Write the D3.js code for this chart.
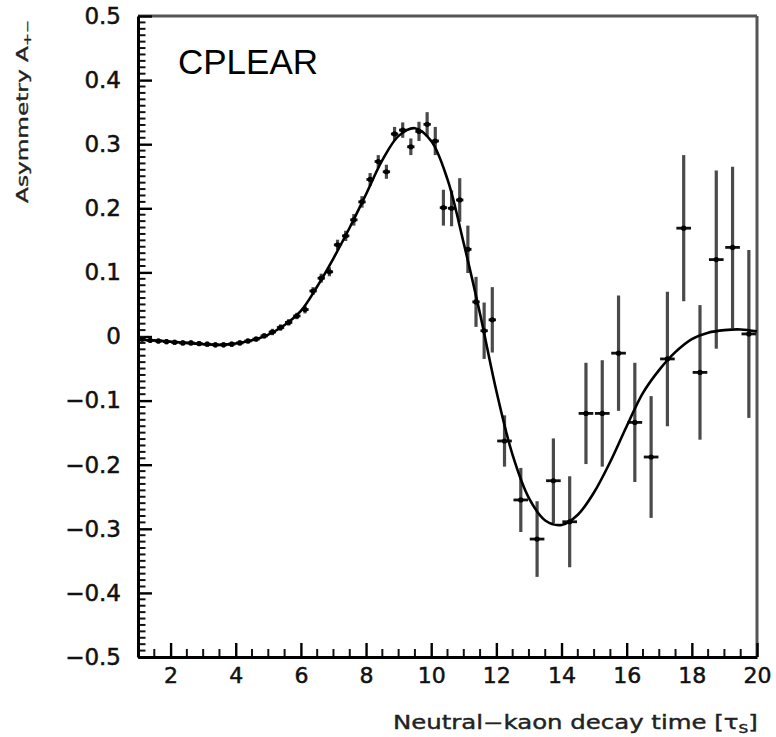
<!DOCTYPE html>
<html>
<head>
<meta charset="utf-8">
<script src="https://cdn.jsdelivr.net/npm/d3@7"></script>
<style>
  html, body { margin: 0; padding: 0; background: #fff; }
  svg { display: block; }
</style>
</head>
<body>
<script>
// ---------- data ----------
const decayTime = [1.125,1.375,1.625,1.875,2.125,2.375,2.625,2.875,3.125,3.375,3.625,3.875,
  4.125,4.375,4.625,4.875,5.125,5.375,5.625,5.875,6.125,6.375,6.625,6.875,7.125,7.375,7.625,7.875,
  8.125,8.375,8.625,8.875,9.125,9.375,9.625,9.875,10.125,10.375,10.625,10.875,11.125,11.375,11.625,11.875,
  12.25,12.75,13.25,13.75,14.25,14.75,15.25,15.75,16.25,16.75,17.25,17.75,18.25,18.75,19.25,19.75];
const asymmetry = [-0.004,-0.006,-0.007,-0.008,-0.009,-0.010,-0.010,-0.011,-0.012,-0.013,-0.013,-0.012,
  -0.010,-0.007,-0.004,0.001,0.007,0.014,0.022,0.032,0.042,0.071,0.091,0.101,0.143,0.157,0.182,0.210,
  0.245,0.273,0.257,0.316,0.322,0.296,0.320,0.331,0.305,0.201,0.200,0.213,0.136,0.054,0.009,0.026,
  -0.163,-0.255,-0.316,-0.225,-0.289,-0.120,-0.120,-0.026,-0.134,-0.188,-0.035,0.169,-0.056,0.120,0.139,0.004];
const asymmetryErr = [0.004,0.004,0.004,0.004,0.004,0.004,0.004,0.004,0.004,0.004,0.004,0.004,
  0.004,0.004,0.004,0.004,0.005,0.005,0.005,0.005,0.006,0.006,0.007,0.007,0.008,0.008,0.009,0.009,
  0.010,0.010,0.011,0.011,0.012,0.013,0.015,0.019,0.022,0.028,0.028,0.034,0.037,0.039,0.044,0.051,
  0.040,0.050,0.059,0.066,0.071,0.079,0.083,0.090,0.093,0.095,0.105,0.114,0.105,0.139,0.126,0.131];
const binWidth = [0.25,0.25,0.25,0.25,0.25,0.25,0.25,0.25,0.25,0.25,0.25,0.25,
  0.25,0.25,0.25,0.25,0.25,0.25,0.25,0.25,0.25,0.25,0.25,0.25,0.25,0.25,0.25,0.25,
  0.25,0.25,0.25,0.25,0.25,0.25,0.25,0.25,0.25,0.25,0.25,0.25,0.25,0.25,0.25,0.25,
  0.5,0.5,0.5,0.5,0.5,0.5,0.5,0.5,0.5,0.5,0.5,0.5,0.5,0.5,0.5,0.5];

const fitTime = [1.0,1.5,2.0,2.5,3.0,3.5,4.0,4.5,5.0,5.5,6.0,6.5,7.0,7.5,8.0,8.5,9.0,9.5,10.0,10.5,
  11.0,11.5,12.0,12.5,13.0,13.5,14.0,14.5,15.0,15.5,16.0,16.5,17.0,17.5,18.0,18.5,19.0,19.5,20.0];
const fitAsym = [-0.005,-0.006,-0.008,-0.010,-0.012,-0.013,-0.011,-0.006,0.003,0.018,0.040,0.078,0.122,
  0.170,0.222,0.275,0.313,0.325,0.305,0.245,0.145,0.035,-0.085,-0.185,-0.252,-0.287,-0.294,-0.278,
  -0.243,-0.195,-0.140,-0.088,-0.052,-0.024,-0.004,0.006,0.010,0.011,0.008];

const xTickValues = [2,4,6,8,10,12,14,16,18,20];
const xTickLabels = ["2","4","6","8","10","12","14","16","18","20"];
const yTickValues = [-0.5,-0.4,-0.3,-0.2,-0.1,0,0.1,0.2,0.3,0.4,0.5];
const yTickLabels = ["\u22120.5","\u22120.4","\u22120.3","\u22120.2","\u22120.1","0","0.1","0.2","0.3","0.4","0.5"];
const xMinorValues = [1.5,2.5,3,3.5,4.5,5,5.5,6.5,7,7.5,8.5,9,9.5,10.5,11,11.5,12.5,13,13.5,14.5,15,15.5,
  16.5,17,17.5,18.5,19,19.5];
const yMinorStep = 0.01;

const xAxisTitle = "Neutral\u2212kaon decay time [\u03C4";
const xAxisTitleSub = "S";
const yAxisTitle = "Asymmetry A";
const yAxisTitleSub = "+\u2212";
const experimentLabel = "CPLEAR";

// ---------- drawing ----------
const W = 776, H = 737;
const svg = d3.select("body").append("svg").attr("width", W).attr("height", H);

const x = d3.scaleLinear().domain([1, 20]).range([138, 757]);
const y = d3.scaleLinear().domain([-0.5, 0.5]).range([657, 16]);

const tickFont = "'DejaVu Sans', sans-serif";

// frame top / right
svg.append("line").attr("x1", x(1)).attr("x2", x(20)).attr("y1", y(0.5)).attr("y2", y(0.5))
  .attr("stroke", "#555").attr("stroke-width", 3);
svg.append("line").attr("x1", x(20)).attr("x2", x(20)).attr("y1", y(0.5)).attr("y2", y(-0.5))
  .attr("stroke", "#555").attr("stroke-width", 3);

// minor ticks (drawn from scales)
const yMinorValues = [];
for (let k = -50; k <= 50; k++) { if (k % 10 !== 0) yMinorValues.push(k * yMinorStep); }
svg.append("g").selectAll("line").data(yMinorValues).join("line")
  .attr("x1", x(1)).attr("x2", x(1) + 7.5)
  .attr("y1", d => y(d)).attr("y2", d => y(d))
  .attr("stroke", "#111").attr("stroke-width", 2);
svg.append("g").selectAll("line").data(xMinorValues).join("line")
  .attr("x1", d => x(d)).attr("x2", d => x(d))
  .attr("y1", y(-0.5)).attr("y2", y(-0.5) - 8)
  .attr("stroke", "#111").attr("stroke-width", 2);

// major axes
const yAxis = svg.append("g").attr("transform", `translate(${x(1)},0)`)
  .call(d3.axisLeft(y).tickValues(yTickValues).tickSizeInner(-14).tickSizeOuter(0).tickPadding(17)
    .tickFormat((d, i) => yTickLabels[i]));
yAxis.select(".domain").attr("stroke", "#000").attr("stroke-width", 3);
yAxis.selectAll(".tick line").attr("stroke", "#000").attr("stroke-width", 2.4);
yAxis.selectAll("text").attr("font-family", tickFont).attr("font-size", 23).attr("fill", "#111")
  .attr("stroke", "#111").attr("stroke-width", 0.5);

const xAxis = svg.append("g").attr("transform", `translate(0,${y(-0.5)})`)
  .call(d3.axisBottom(x).tickValues(xTickValues).tickSizeInner(-14).tickSizeOuter(0).tickPadding(10)
    .tickFormat((d, i) => xTickLabels[i]));
xAxis.select(".domain").attr("stroke", "#000").attr("stroke-width", 3);
xAxis.selectAll(".tick line").attr("stroke", "#000").attr("stroke-width", 2.4);
xAxis.selectAll("text").attr("font-family", tickFont).attr("font-size", 22).attr("fill", "#111")
  .attr("stroke", "#111").attr("stroke-width", 0.5);

// data
const pts = decayTime.map((t, i) => ({ t, a: asymmetry[i], e: asymmetryErr[i], w: binWidth[i] }));
const gPts = svg.append("g");
gPts.selectAll("line.ev").data(pts).join("line").attr("class", "ev")
  .attr("x1", d => x(d.t)).attr("x2", d => x(d.t))
  .attr("y1", d => y(d.a + d.e)).attr("y2", d => y(d.a - d.e))
  .attr("stroke", "#4a4a4a").attr("stroke-width", 3.2);
gPts.selectAll("line.eh").data(pts).join("line").attr("class", "eh")
  .attr("x1", d => x(d.t - d.w * 0.45)).attr("x2", d => x(d.t + d.w * 0.45))
  .attr("y1", d => y(d.a)).attr("y2", d => y(d.a))
  .attr("stroke", "#111").attr("stroke-width", 2.8);
gPts.selectAll("circle").data(pts).join("circle")
  .attr("cx", d => x(d.t)).attr("cy", d => y(d.a)).attr("r", 2.6).attr("fill", "#000");

// fit curve
const fit = fitTime.map((t, i) => [t, fitAsym[i]]);
svg.append("path").datum(fit)
  .attr("d", d3.line().x(d => x(d[0])).y(d => y(d[1])).curve(d3.curveCatmullRom.alpha(0.5)))
  .attr("fill", "none").attr("stroke", "#000").attr("stroke-width", 2.6);

// x axis title
const xt = svg.append("text").attr("font-family", tickFont).attr("font-size", 19).attr("fill", "#222")
  .attr("stroke", "#222").attr("stroke-width", 0.4);
xt.append("tspan").text(xAxisTitle);
xt.append("tspan").attr("font-size", 12).attr("dy", 4).text(xAxisTitleSub);
xt.append("tspan").attr("dy", -4).text("]");
{
  const w = xt.node().getComputedTextLength();
  const target = 365;
  xt.attr("transform", `translate(${758 - target},729) scale(${target / w},1)`);
}

// y axis title (rotated)
const yt = svg.append("text").attr("font-family", tickFont).attr("font-size", 15).attr("fill", "#222")
  .attr("stroke", "#222").attr("stroke-width", 0.3);
yt.append("tspan").text(yAxisTitle);
yt.append("tspan").attr("font-size", 10).attr("dy", 3).text(yAxisTitleSub);
{
  const w = yt.node().getComputedTextLength();
  const target = 183;
  yt.attr("transform", `translate(28,203) rotate(-90) scale(${target / w},1)`);
}

// experiment label
svg.append("text").attr("x", 178).attr("y", 74)
  .attr("font-family", "'Liberation Sans', Arial, sans-serif").attr("font-size", 35)
  .attr("fill", "#000").text(experimentLabel);
</script>
</body>
</html>
